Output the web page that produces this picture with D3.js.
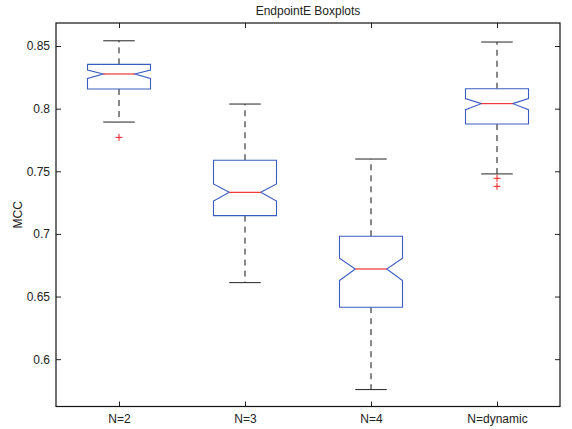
<!DOCTYPE html>
<html>
<head>
<meta charset="utf-8">
<script src="https://cdn.jsdelivr.net/npm/d3@7"></script>
<style>
body{margin:0;background:#fff;}
svg{display:block;font-family:"Liberation Sans",Arial,Helvetica,sans-serif;}
</style>
</head>
<body>
<svg id="chart" width="572" height="429"></svg>
<script>
const categories = ["N=2","N=3","N=4","N=dynamic"];
const whiskerHigh = [0.8542,0.8037,0.7598,0.8532];
const q3 = [0.8354,0.7588,0.6981,0.8159];
const median = [0.8277,0.7332,0.6720,0.8040];
const q1 = [0.8157,0.7146,0.6415,0.7877];
const whiskerLow = [0.7893,0.6611,0.5757,0.7479];
const notchHigh = [0.8308,0.7399,0.6806,0.8080];
const notchLow = [0.8242,0.7263,0.6627,0.7992];
const outliers = [[0.7771],[],[],[0.7444,0.7380]];
const yTicks = [0.6,0.65,0.7,0.75,0.8,0.85];
const yDomain = [0.5622,0.8684];

const W=572,H=429;
const m={left:56,right:560,top:23,bottom:406.5};
const svg=d3.select("#chart");
const x=d3.scaleLinear().domain([0.5,4.5]).range([m.left,m.right]);
const y=d3.scaleLinear().domain(yDomain).range([m.bottom,m.top]);
const blue="#3a5cc0", red="#ee2222";

// axes (ticks pointing inward)
const tickLen=5;
const fs=12;
const axL=d3.axisLeft(y).tickValues(yTicks).tickFormat(d=>String(+d.toFixed(2))).tickSizeInner(-tickLen).tickSizeOuter(0).tickPadding(6);
const gL=svg.append("g").attr("transform",`translate(${m.left},0)`).call(axL);
const axR=d3.axisRight(y).tickValues(yTicks).tickFormat("").tickSizeInner(-tickLen).tickSizeOuter(0);
const gR=svg.append("g").attr("transform",`translate(${m.right},0)`).call(axR);
const xt=[1,2,3,4];
const axB=d3.axisBottom(x).tickValues(xt).tickFormat((d,i)=>categories[i]).tickSizeInner(-tickLen).tickSizeOuter(0).tickPadding(8);
const gB=svg.append("g").attr("transform",`translate(0,${m.bottom})`).call(axB);
const axT=d3.axisTop(x).tickValues(xt).tickFormat("").tickSizeInner(-tickLen).tickSizeOuter(0);
const gT=svg.append("g").attr("transform",`translate(0,${m.top})`).call(axT);
[gL,gR,gB,gT].forEach(g=>{
  g.selectAll(".domain").remove();
  g.selectAll("line").attr("stroke","#222");
  g.selectAll("text").attr("font-size",fs).attr("fill","#222").attr("font-family","Liberation Sans,Arial,sans-serif");
});
gL.selectAll("text").attr("dx",0);
gB.selectAll("text").attr("dy","0.71em");

// frame
svg.append("rect").attr("x",m.left).attr("y",m.top).attr("width",m.right-m.left).attr("height",m.bottom-m.top)
  .attr("fill","none").attr("stroke","#111").attr("stroke-width",1.2);

const bw=0.25; // half box width in x units
const g=svg.append("g");
categories.forEach((c,i)=>{
  const cx=i+1;
  // whiskers
  g.append("line").attr("x1",x(cx)).attr("x2",x(cx)).attr("y1",y(q3[i])).attr("y2",y(whiskerHigh[i]))
    .attr("stroke","#111").attr("stroke-dasharray","6,5");
  g.append("line").attr("x1",x(cx)).attr("x2",x(cx)).attr("y1",y(q1[i])).attr("y2",y(whiskerLow[i]))
    .attr("stroke","#111").attr("stroke-dasharray","6,5");
  // caps
  [whiskerHigh[i],whiskerLow[i]].forEach(v=>{
    g.append("line").attr("x1",x(cx-bw/2)).attr("x2",x(cx+bw/2)).attr("y1",y(v)).attr("y2",y(v))
      .attr("stroke","#222");
  });
  // notched box
  const L=x(cx-bw),R=x(cx+bw),Li=x(cx-bw/2),Ri=x(cx+bw/2);
  const pts=[[L,y(q3[i])],[R,y(q3[i])],[R,y(notchHigh[i])],[Ri,y(median[i])],[R,y(notchLow[i])],[R,y(q1[i])],
             [L,y(q1[i])],[L,y(notchLow[i])],[Li,y(median[i])],[L,y(notchHigh[i])]];
  g.append("path").attr("d",d3.line()(pts)+"Z").attr("fill","white").attr("stroke",blue).attr("stroke-width",1.1);
  // median
  g.append("line").attr("x1",Li).attr("x2",Ri).attr("y1",y(median[i])).attr("y2",y(median[i]))
    .attr("stroke",red).attr("stroke-width",1.1);
  // outliers
  outliers[i].forEach(v=>{
    const px=x(cx),py=y(v),s=3.5;
    g.append("path").attr("d",`M${px-s},${py}H${px+s}M${px},${py-s}V${py+s}`).attr("stroke",red).attr("stroke-width",1);
  });
});

// title and y label
svg.append("text").attr("x",(m.left+m.right)/2).attr("y",15).attr("text-anchor","middle")
  .attr("font-size",fs).attr("fill","#222").text("EndpointE Boxplots");
svg.append("text").attr("transform",`translate(22,${(m.top+m.bottom)/2}) rotate(-90)`).attr("text-anchor","middle")
  .attr("font-size",fs).attr("fill","#222").text("MCC");
</script>
</body>
</html>
